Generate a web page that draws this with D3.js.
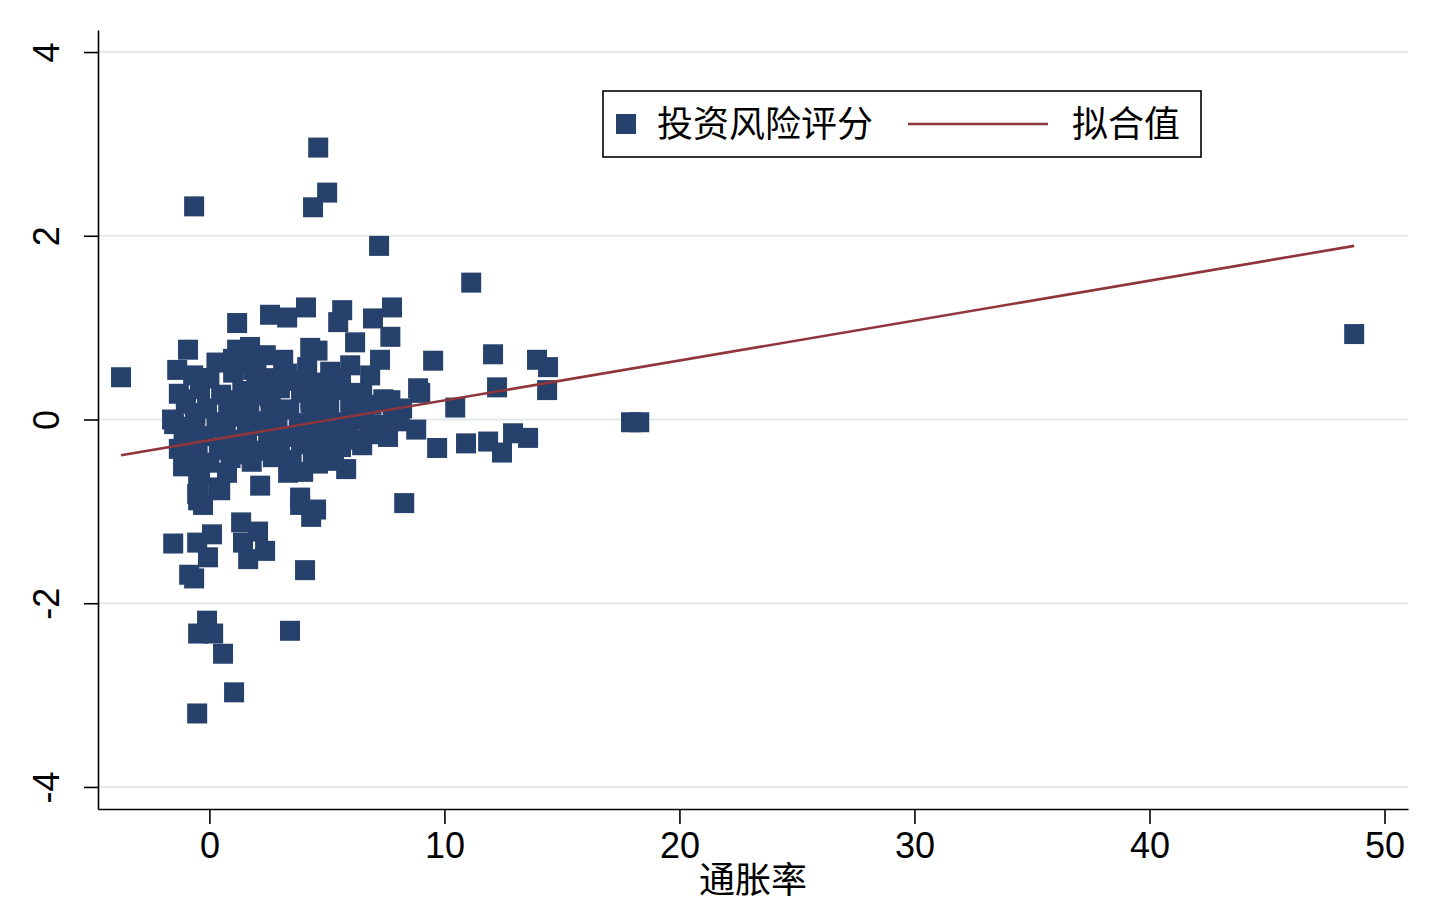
<!DOCTYPE html>
<html>
<head>
<meta charset="utf-8">
<style>
    body { margin: 0; background: #fff; }
    svg { display: block; }
    .tick text { font-family: "Liberation Sans", Arial, sans-serif; font-size: 36px; fill: #000; }
    .tick line { stroke: #000; stroke-width: 1.6; }
    .domain { stroke: #000; stroke-width: 1.6; }
    .grid line { stroke: #e3e9ec; stroke-width: 2; }
    .cjk { font-family: "Noto Sans CJK SC", sans-serif; font-size: 36px; fill: #000; }
</style>
</head>
<body>
<svg width="1432" height="908"></svg>
<script src="https://d3js.org/d3.v7.min.js"></script>
<script>
// inflation (x) and investment risk score (y)
let inflation = [
    -3.76, -0.65, 4.63, 5.01, 4.41, 7.22, 11.14, 48.71, 17.94, 18.29,
    12.07, 12.24, 13.94, 14.41, 14.37, 9.52, 10.46, 9.69, 10.92, 11.86,
    12.45, 12.92, 13.56, 8.29, 8.80, 8.88, 8.97, 5.82, 4.07, 3.43,
    1.05, -0.52, 0.58, -0.10, -0.48, 0.16, -1.54, -0.52, 0.11, -0.06,
    -0.86, -0.65, 1.35, 2.07, 1.43, 2.37, 1.65, 3.86, 4.54, 4.33,
    -1.12, -0.48, -0.48, -0.27, 0.37, 2.16, 3.35, 4.62, 3.99, -0.40,
    0.75, 0.46, 3.86, 1.18, 2.58, 3.31, 4.11, 5.65, 5.48, 7.77,
    6.96, 7.70, 6.20, -0.91, -1.37, -0.27, -0.69, 1.18, 1.73, 1.01,
    1.86, 3.14, 4.29, 4.16, 5.14, 5.99, 7.26, 6.84, 6.28, -0.52,
    -1.59, 4.60,
    -1.3, -0.4, 0.5, 1.4, 2.2, 3.0, 3.9, 4.7, 5.5, 6.5, 7.4, 8.2,
    -1.0, -0.1, 0.8, 1.7, 2.6, 3.4, 4.3, 5.1, 6.0, 6.9, 7.8,
    -1.5, -0.6, 0.3, 1.2, 2.0, 2.9, 3.8, 4.6, 5.4, 6.3, 7.2, 8.1,
    -1.1, -0.2, 0.7, 1.6, 2.5, 3.3, 4.2, 5.0, 5.9, 6.8, 7.6,
    -1.3, -0.5, 0.4, 1.3, 2.1, 3.0, 3.9, 4.8, 5.6, 6.5,
    -0.9, 0.0, 0.9, 1.8, 2.7, 3.5, 4.4, 5.3,
    1.5, 2.4, 2.8, 3.6, 0.3, 4.8, 0.0, 5.6, 2.0,
    -1.0, 0.9, 2.6, 4.3, 6.0, 7.7,
    -0.6, 1.0, 2.7, 4.4, 6.6,
    -0.9, 0.6, 2.4, 4.1, 5.8, 7.5,
    -0.8, 1.0, 2.8, 4.5, 6.2,
    -0.6, 1.1, 2.9, 4.6,
    1.0, 2.0, 3.3, 4.3
];
let riskScore = [
    0.46, 2.32, 2.96, 2.47, 2.31, 1.89, 1.49, 0.93, -0.03, -0.03,
    0.71, 0.35, 0.65, 0.57, 0.32, 0.64, 0.13, -0.31, -0.26, -0.24,
    -0.36, -0.15, -0.20, -0.91, -0.11, 0.34, 0.29, -0.54, -1.64, -2.30,
    -2.97, -3.20, -2.55, -2.19, -2.33, -2.33, -1.35, -1.34, -1.25, -1.50,
    -1.69, -1.73, -1.12, -1.22, -1.34, -1.43, -1.52, -0.93, -0.98, -1.06,
    -0.51, -0.69, -0.88, -0.93, -0.74, -0.72, -0.58, -0.48, -0.57, -0.58,
    -0.58, -0.77, -0.85, 1.05, 1.14, 1.11, 1.22, 1.19, 1.06, 1.22,
    1.10, 0.90, 0.84, 0.76, 0.54, 0.45, 0.48, 0.76, 0.79, 0.51,
    0.54, 0.65, 0.78, 0.57, 0.52, 0.59, 0.65, 0.48, 0.29, -0.81,
    0.00, 0.75,
    0.28, 0.33, 0.27, 0.31, 0.26, 0.34, 0.29, 0.25, 0.32, 0.27, 0.22, 0.12,
    0.17, 0.12, 0.18, 0.13, 0.16, 0.11, 0.18, 0.14, 0.10, 0.16, 0.08,
    -0.05, 0.02, -0.03, 0.03, -0.02, 0.01, -0.04, 0.03, -0.03, 0.00, -0.06, -0.02,
    -0.14, -0.18, -0.12, -0.17, -0.13, -0.19, -0.14, -0.17, -0.21, -0.16, -0.19,
    -0.32, -0.28, -0.33, -0.29, -0.34, -0.30, -0.27, -0.33, -0.30, -0.28,
    -0.43, -0.47, -0.42, -0.46, -0.41, -0.44, -0.40, -0.45,
    0.62, 0.70, 0.45, 0.42, 0.62, 0.40, 0.45, 0.44, 0.40,
    0.22, 0.21, 0.23, 0.22, 0.20, 0.21,
    0.07, 0.06, 0.08, 0.07, 0.06,
    -0.08, -0.09, -0.07, -0.08, -0.09, -0.08,
    -0.23, -0.22, -0.24, -0.23, -0.22,
    -0.37, -0.38, -0.36, -0.37,
    0.66, 0.58, 0.50, 0.40
];

// fitted line ends (拟合值)
let fitX = [-3.76, 48.71];
let fitY = [-0.39, 1.89];

let xTicks = [0, 10, 20, 30, 40, 50];
let yTicks = [-4, -2, 0, 2, 4];

let width = 1432;
let height = 908;
let margin = { top: 30, right: 24, bottom: 99, left: 98 };
let svg = d3.select("svg");

let points = inflation.map((d, i) => ({ x: d, y: riskScore[i] }));

let x = d3.scaleLinear()
    .domain([-4.74, 51.0])
    .range([margin.left, width - margin.right]);

let y = d3.scaleLinear()
    .domain([-4.24, 4.24])
    .range([height - margin.bottom, margin.top]);

// grid lines
svg.append("g")
    .attr("class", "grid")
    .selectAll("line")
    .data(yTicks)
    .join("line")
    .attr("x1", margin.left)
    .attr("x2", width - margin.right)
    .attr("y1", d => y(d))
    .attr("y2", d => y(d));

// axes
let xAxis = svg.append("g")
    .attr("transform", `translate(0,${height - margin.bottom})`)
    .call(d3.axisBottom(x).tickValues(xTicks).tickSize(15).tickPadding(8).tickSizeOuter(0)
        .tickFormat(d => String(d)));
xAxis.selectAll(".tick text").attr("dy", "0.72em");

let yAxis = svg.append("g")
    .attr("transform", `translate(${margin.left},0)`)
    .call(d3.axisLeft(y).tickValues(yTicks).tickSize(14).tickSizeOuter(0)
        .tickFormat(d => String(d)));
yAxis.selectAll(".tick text")
    .attr("x", null).attr("dy", null)
    .attr("text-anchor", "middle")
    .attr("transform", "translate(-39,0) rotate(-90)");

// markers
let size = 20;
svg.append("g")
    .selectAll("rect")
    .data(points)
    .join("rect")
    .attr("x", d => x(d.x) - size / 2)
    .attr("y", d => y(d.y) - size / 2)
    .attr("width", size)
    .attr("height", size)
    .attr("fill", "#26416c");

// fitted line
svg.append("line")
    .attr("x1", x(fitX[0])).attr("y1", y(fitY[0]))
    .attr("x2", x(fitX[1])).attr("y2", y(fitY[1]))
    .attr("stroke", "#8f353b")
    .attr("stroke-width", 2.6);

// x axis title
svg.append("text")
    .attr("class", "cjk")
    .attr("x", (margin.left + width - margin.right) / 2)
    .attr("y", 893)
    .attr("text-anchor", "middle")
    .text("通胀率");

// legend
let legend = svg.append("g");
legend.append("rect")
    .attr("x", 603).attr("y", 91)
    .attr("width", 598).attr("height", 66)
    .attr("fill", "#fff")
    .attr("stroke", "#000")
    .attr("stroke-width", 1.6);
legend.append("rect")
    .attr("x", 616).attr("y", 114)
    .attr("width", size).attr("height", size)
    .attr("fill", "#26416c");
legend.append("text")
    .attr("class", "cjk")
    .attr("x", 657).attr("y", 137)
    .text("投资风险评分");
legend.append("line")
    .attr("x1", 908).attr("x2", 1048)
    .attr("y1", 124).attr("y2", 124)
    .attr("stroke", "#8f353b")
    .attr("stroke-width", 2.6);
legend.append("text")
    .attr("class", "cjk")
    .attr("x", 1072).attr("y", 137)
    .text("拟合值");
</script>
</body>
</html>
